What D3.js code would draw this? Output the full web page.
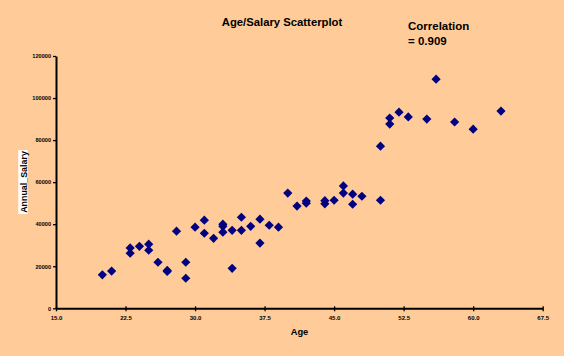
<!DOCTYPE html>
<html><head><meta charset="utf-8">
<script src="https://cdn.jsdelivr.net/npm/d3@7"></script>
<style>
html,body{margin:0;padding:0;background:#FFCC99;}
svg{display:block;}
text{font-family:"Liberation Sans",Arial,sans-serif;fill:#000;}
</style></head>
<body>
<svg id="c" width="564" height="356"></svg>
<script>
const ages = [20,21,23,23,24,25,25,26,27,27,28,29,29,30,31,31,32,33,33,33,34,34,35,35,36,37,37,38,39,40,41,42,42,44,44,45,46,46,47,47,48,50,50,51,51,52,53,55,56,58,60,63];
const salaries = [15900,17700,28700,26200,29500,30500,27600,21900,18000,17500,36700,21900,14300,38600,41900,35700,33300,40000,39000,36200,37100,19000,43300,37100,39000,42400,31000,39500,38600,54800,48600,51000,50000,51200,49700,51400,58200,54800,54300,49500,53300,77100,51400,90500,87600,93300,91000,90000,109000,88600,85200,93800];
const xTicks = [15,22.5,30,37.5,45,52.5,60,67.5];
const yTicks = [0,20000,40000,60000,80000,100000,120000];
const title = "Age/Salary Scatterplot";
const corrLines = ["Correlation","= 0.909"];
const xLabel = "Age", yLabel = "Annual_Salary";

const svg = d3.select("#c");
const x = d3.scaleLinear().domain([15,67.5]).range([56,542.7]);
const y = d3.scaleLinear().domain([0,120000]).range([308.3,56]);

// axes
const xa = svg.append("g").attr("transform","translate(0,308.3)")
  .call(d3.axisBottom(x).tickValues(xTicks).tickFormat(d3.format(".1f")).tickSizeInner(3).tickSizeOuter(0));
xa.select(".domain").attr("stroke","#000").attr("stroke-width",2);
xa.selectAll(".tick line").attr("stroke","#000").attr("stroke-width",1.3).attr("y1",-2);
xa.selectAll(".tick text").attr("y",7).attr("font-size","6px").attr("font-weight","bold").attr("font-family","Liberation Sans, Arial");

const ya = svg.append("g").attr("transform","translate(56,0)")
  .call(d3.axisLeft(y).tickValues(yTicks).tickFormat(d3.format("d")).tickSizeInner(3).tickSizeOuter(0));
ya.select(".domain").attr("stroke","#000").attr("stroke-width",2);
ya.selectAll(".tick line").attr("stroke","#000").attr("stroke-width",1.3);
ya.selectAll(".tick text").attr("x",-5).attr("font-size","5.6px").attr("font-weight","bold").attr("font-family","Liberation Sans, Arial");

// points
const data = ages.map((a,i)=>({a, s:salaries[i]}));
svg.append("g").selectAll("path").data(data).join("path")
  .attr("transform",d=>`translate(${x(d.a)},${y(d.s)})`)
  .attr("d","M0,-4.6L4.6,0L0,4.6L-4.6,0Z")
  .attr("fill","#000080");

// titles
svg.append("text").attr("x",282).attr("y",26).attr("text-anchor","middle")
  .attr("font-size","11.3px").attr("font-weight","bold").text(title);
svg.append("text").attr("x",408).attr("y",29.5)
  .attr("font-size","11.5px").attr("font-weight","bold").text(corrLines[0]);
svg.append("text").attr("x",408).attr("y",44.5)
  .attr("font-size","11.5px").attr("font-weight","bold").text(corrLines[1]);

svg.append("text").attr("x",299.5).attr("y",335).attr("text-anchor","middle")
  .attr("font-size","9.3px").attr("font-weight","bold").text(xLabel);

svg.append("rect").attr("x",18.3).attr("y",150).attr("width",9.4).attr("height",64).attr("fill","#fff");
svg.append("text").attr("transform","translate(26.8,182) rotate(-90)").attr("text-anchor","middle")
  .attr("font-size","8.9px").attr("font-weight","bold").text(yLabel);
</script>
</body></html>
